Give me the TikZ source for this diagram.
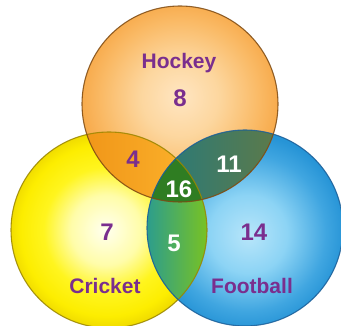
\documentclass[tikz,border=0pt]{standalone}
\usepackage{fontspec}
\setmainfont{Liberation Sans}
\definecolor{labpurple}{HTML}{7A2E8E}
\definecolor{hockeyline}{HTML}{7E4A12}
\definecolor{cricketline}{HTML}{9A8600}
\definecolor{footline}{HTML}{1A5E98}
\definecolor{hcA}{HTML}{F09518}
\definecolor{hcB}{HTML}{FDB62E}
\definecolor{hfA}{HTML}{227A80}
\definecolor{hfB}{HTML}{5E7A48}
\definecolor{cfA}{HTML}{2A9C90}
\definecolor{cfB}{HTML}{7CC41E}
\definecolor{triple}{HTML}{2F7D22}
\pgfdeclareradialshading{cricketsh}{\pgfpoint{-1bp}{0bp}}{rgb(0bp)=(1,1,0.94); rgb(9bp)=(1,0.99,0.66); rgb(16bp)=(1,0.96,0.12); rgb(22bp)=(0.99,0.93,0); rgb(25bp)=(0.94,0.86,0); rgb(50bp)=(0.94,0.86,0)}
\pgfdeclareradialshading{hockeysh}{\pgfpoint{0bp}{2bp}}{rgb(0bp)=(1,0.9,0.76); rgb(10bp)=(0.99,0.84,0.62); rgb(20bp)=(0.98,0.73,0.4); rgb(25bp)=(0.97,0.67,0.3); rgb(50bp)=(0.97,0.67,0.3)}
\pgfdeclareradialshading{footsh}{\pgfpoint{1bp}{-2bp}}{rgb(0bp)=(0.72,0.9,0.98); rgb(10bp)=(0.55,0.83,0.96); rgb(20bp)=(0.25,0.65,0.88); rgb(25bp)=(0.15,0.58,0.84); rgb(50bp)=(0.15,0.58,0.84)}
\begin{document}
\begin{tikzpicture}[x=1pt,y=-1pt,
  lbl/.style={font=\bfseries\fontsize{21}{21}\selectfont, text=labpurple, anchor=base, inner sep=0pt},
  num/.style={font=\bfseries\fontsize{24}{24}\selectfont, text=labpurple, anchor=base, inner sep=0pt},
  wnum/.style={num, text=white},
  rim/.style={line width=1.1pt, draw opacity=0.85}]
\useasboundingbox (0,0) rectangle (341,326);
\clip (0,0) rectangle (341,326);
\def\Hpath{(180,104) circle (98pt)}
\def\Cpath{(109,230) circle (98pt)}
\def\Fpath{(245,228) circle (98pt)}
% base circles
\shade[shading=cricketsh] \Cpath;
\shade[shading=footsh] \Fpath;
\shade[shading=hockeysh] \Hpath;
% Hockey & Cricket
\begin{scope}
  \clip \Hpath; \clip \Cpath;
  \shade[left color=hcA, right color=hcB] (80,130) rectangle (210,205);
\end{scope}
% Hockey & Football
\begin{scope}
  \clip \Hpath; \clip \Fpath;
  \shade[left color=hfA, right color=hfB] (145,128) rectangle (280,205);
\end{scope}
% Cricket & Football
\begin{scope}
  \clip \Cpath; \clip \Fpath;
  \shade[left color=cfA, right color=cfB] (145,155) rectangle (210,305);
\end{scope}
% all three
\begin{scope}
  \clip \Hpath; \clip \Cpath; \clip \Fpath;
  \fill[triple] (140,150) rectangle (220,210);
\end{scope}
% rims
\draw[rim, cricketline] \Cpath;
\draw[rim, footline] \Fpath;
\draw[rim, hockeyline] \Hpath;
% texts
\node[lbl] (hockey) at (179,69) {Hockey};
\node[num] (n8) at (180,107) {8};
\node[num] (n4) at (133,168) {4};
\node[wnum] (n11) at (229,173) {11};
\node[wnum] (n16) at (179,198) {16};
\node[num] (n7) at (107,241) {7};
\node[wnum] (n5) at (174,252) {5};
\node[num] (n14) at (254,241) {14};
\node[lbl] (cricket) at (105,294) {Cricket};
\node[lbl] (football) at (252,294) {Football};
\end{tikzpicture}
\end{document}
